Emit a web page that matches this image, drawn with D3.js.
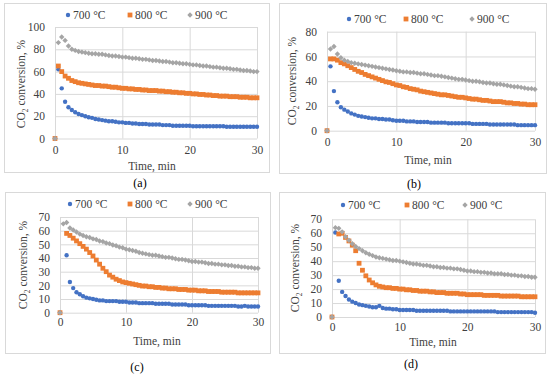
<!DOCTYPE html>
<html><head><meta charset="utf-8">
<script src="https://cdn.jsdelivr.net/npm/d3@7/dist/d3.min.js"></script>
<style>body{margin:0;background:#fff}svg{display:block}
svg text{font-family:"Liberation Serif","DejaVu Serif","Times New Roman",serif !important;}</style>
</head><body>
<svg id="c" width="550" height="374"></svg>
<script>
const time = [0,0.5,1,1.5,2,2.5,3,3.5,4,4.5,5,5.5,6,6.5,7,7.5,8,8.5,9,9.5,10,10.5,11,11.5,12,12.5,13,13.5,14,14.5,15,15.5,16,16.5,17,17.5,18,18.5,19,19.5,20,20.5,21,21.5,22,22.5,23,23.5,24,24.5,25,25.5,26,26.5,27,27.5,28,28.5,29,29.5,30];
const seriesNames = ["700 °C","800 °C","900 °C"];
const panelLabels = ["(a)","(b)","(c)","(d)"];
const xTicks = [0,10,20,30];
const yTicksA = [0,20,40,60,80,100];
const yTicksB = [0,20,40,60,80];
const yTicksC = [0,10,20,30,40,50,60,70];
const yTicksD = [0,10,20,30,40,50,60,70];

const a700 = [0,62,45,33,28,25.5,23.5,22,21,20,
 19,18.5,17.5,17,16.5,16,15.5,15.5,15,14.5,
 14.5,14,14,13.5,13.5,13,13,13,12.5,12.5,
 12.5,12.5,12,12,12,11.5,11.5,11.5,11.5,11.5,
 11.5,11,11,11,11,11,11,11,11,11,
 11,10.5,10.5,10.5,10.5,10.5,10.5,10.5,10.5,10.5,
 10.5];
const a800 = [0,65,60,56,54,52,51,50,49.5,49,
 48.5,48,47.5,47.5,47,47,46.5,46,46,45.5,
 45,45,44.5,44.5,44,44,43.5,43.5,43,43,
 43,42.5,42.5,42,42,41.5,41.5,41,41,40.5,
 40.5,40,40,39.5,39.5,39,39,38.5,38.5,38,
 38,38,37.5,37.5,37.5,37,37,37,36.5,36.5,
 36.5];
const a900 = [0,86,91,88,83,80,79,78,77.5,77,
 76.5,76,76,75.5,75.5,75,74.5,74,74,73.5,
 73,73,72.5,72,72,71.5,71,71,70.5,70,
 70,69.5,69,69,68.5,68,68,67.5,67,67,
 66.5,66,66,65.5,65,65,64.5,64,64,63.5,
 63,63,62.5,62,62,61.5,61,61,60.5,60,
 60];

const b700 = [0,52,32,23,19,17,15.5,14,13,12,
 11.5,11,10.5,10,10,9.5,9.5,9,9,8.5,
 8,8,8,7.5,7.5,7.5,7,7,7,7,
 6.5,6.5,6.5,6.5,6.5,6,6,6,6,6,
 6,6,5.5,5.5,5.5,5.5,5.5,5,5,5,
 5,5,5,5,5,4.5,4.5,4.5,4.5,4.5,
 4.5];
const b800 = [0,58,58,57,55,54,52.5,51,49.5,48,
 47,45.5,44.5,43.5,42.5,41.5,40.5,39.5,39,38,
 37,36.5,35.5,35,34,33.5,33,32,31.5,31,
 30.5,30,29.5,29,29,28.5,28,27.5,27,27,
 26.5,26,25.5,25.5,25,24.5,24.5,24,23.5,23.5,
 23.5,23,22.5,22.5,22,22,21.5,21.5,21,21,
 21];
const b900 = [0,66,68,62,59,57,56,55,54.5,54,
 53.5,53,52.5,52,51.5,51,50.5,50,49.5,49,
 48.5,48,47.5,47.5,47,47,46.5,46,46,45.5,
 45,44.5,44.5,44,43.5,43,42.5,42,41.5,41.5,
 41,40.5,40,40,39.5,39,38.5,38.5,38,37.5,
 37.5,37,36.5,36,35.5,35.5,35,34.5,34,34,
 33.5];

const c700 = [0,null,42,22.5,18,15,13.5,12,11,10.5,
 10,9.5,9,9,8.5,8.5,8.5,8.5,8,8,
 8,7.5,7.5,7.5,7,7,7,7,7,6.5,
 6.5,6.5,6.5,6.5,6,6,6,6,6,5.5,
 5.5,5.5,5.5,5.5,5.5,5,5,5,5,5,
 5,5,5,5,4.5,4.5,5,4.5,4.5,4.5,
 4.5];
const c800 = [0,null,58,56.5,54.5,52.5,50.5,48.5,46.5,44,
 41.5,38.5,35.5,32.5,30,27.5,26,24.5,23.5,22.5,
 22,21.5,21,20.5,20,19.5,19.5,19,19,18.5,
 18.5,18,18,17.5,17.5,17.5,17,17,17,16.5,
 16.5,16.5,16,16,16,15.5,15.5,15.5,15.5,15,
 15,15,15,15,14.5,14.5,14.5,14.5,14.5,14.5,
 14.5];
const c900 = [0,65,66,62,60.5,59,57.5,56.5,55.5,55,
 54,53.5,52.5,52,51,50.5,49.5,49,48,47.5,
 46.5,46,45.5,45,44,43.5,43,42.5,42,42,
 41.5,41,40.5,40.5,40,39.5,39,39,38.5,38,
 37.5,37.5,37,37,36.5,36,36,35.5,35.5,35,
 35,34.5,34.5,34,34,33.5,33.5,33,33,32.5,
 32.5];

const d700 = [0,60.5,26,18,15,12.5,11,10,9,8.5,
 8,7.5,7,7,8,6.5,6,6,5.5,5.5,
 5,5,5,5,5,4.5,4.5,4.5,4.5,4.5,
 4.5,4.5,4.5,4.5,4.5,4,4,4,4,4,
 4,4,4,4,4,4,4,4,4,3.5,
 3.5,3.5,3.5,3.5,3.5,3.5,3.5,3.5,3.5,3.5,
 3];
const d800 = [0,null,59.5,60,57,54.5,51.5,47.5,38.5,33.5,
 29.5,26.5,24.5,23,22,21.5,21,21,20.5,20.5,
 20,20,19.5,19.5,19,19,18.5,18.5,18.5,18,
 18,17.5,17.5,17.5,17,17,17,17,16.5,16.5,
 16,16,16,16,16,15.5,15.5,15.5,15.5,15.5,
 15,15,15,15,15,15,14.5,14.5,14.5,14.5,
 14.5];
const d900 = [0,64,63.5,61,57.5,55,52.5,50.5,49,47.5,
 46,45,44,43,42.5,42,41.5,41,40.5,40.5,
 40,39.5,39,38.5,38,38,37.5,37,37,36.5,
 36,36,35.5,35.5,35,35,34.5,34.5,34,33.5,
 33,33,32.5,32.5,32,32,31.5,31.5,31,31,
 31,30.5,30.5,30,30,29.5,29.5,29,29,28.5,
 28.5];

const colors = ["#4472C4","#ED7D31","#A5A5A5"];
const FONT = "Liberation Serif, DejaVu Serif, serif";
const FS = 11.5;
const TXT = "#404040";

const panels = [
  {label:panelLabels[0], series:[a700,a800,a900], yTicks:yTicksA, yMax:100,
   frame:[4,3,269,172], px:[55,257], py:[138.5,27], legY:15, legX:[68,130,190],
   titleX:21, titleY:84, xlabY:166, xlabX:152, tickY:153, labY:183, labX:140},
  {label:panelLabels[1], series:[b700,b800,b900], yTicks:yTicksB, yMax:80,
   frame:[279,3,546,173], px:[327,535], py:[130.7,31.7], legY:19, legX:[349,406,472],
   titleX:292, titleY:81, xlabY:160, xlabX:428, tickY:145, labY:184, labX:414},
  {label:panelLabels[2], series:[c700,c800,c900], yTicks:yTicksC, yMax:70,
   frame:[5,192,270,353], px:[60,258], py:[312.7,217], legY:204, legX:[70,130,190],
   titleX:23, titleY:265, xlabY:341, xlabX:157, tickY:325, labY:367, labX:137},
  {label:panelLabels[3], series:[d700,d800,d900], yTicks:yTicksD, yMax:70,
   frame:[279,192,545,353], px:[332,535], py:[317,219.3], legY:205, legX:[343,407,465],
   titleX:295, titleY:268, xlabY:342, xlabX:433, tickY:330, labY:364, labX:411}
];

const svg = d3.select("#c");

function marker(g, k, x, y) {
  if (k === 0) {
    g.append("circle").attr("cx", x).attr("cy", y).attr("r", 2.2).attr("fill", colors[0]);
  } else if (k === 1) {
    g.append("rect").attr("x", x-2.4).attr("y", y-2.4).attr("width", 4.8).attr("height", 4.8).attr("fill", colors[1]);
  } else {
    const s = 2.7;
    g.append("path").attr("d", `M${x},${y-s}L${x+s},${y}L${x},${y+s}L${x-s},${y}Z`).attr("fill", colors[2]);
  }
}
function styleText(sel, fs) {
  sel.style("font-family", FONT).style("font-size", fs + "px").attr("fill", TXT);
}

panels.forEach(p => {
  const g = svg.append("g");
  const [fx0, fy0, fx1, fy1] = p.frame;
  g.append("rect").attr("x", fx0+0.5).attr("y", fy0+0.5).attr("width", fx1-fx0).attr("height", fy1-fy0)
    .attr("fill", "#fff").attr("stroke", "#d9d9d9").attr("stroke-width", 1);

  const x = d3.scaleLinear().domain([0, 30]).range(p.px);
  const y = d3.scaleLinear().domain([0, p.yMax]).range(p.py);

  const gy = g.append("g").attr("transform", `translate(${p.px[0]},0)`)
    .call(d3.axisLeft(y).tickValues(p.yTicks).tickSize(-(p.px[1]-p.px[0])).tickFormat(""));
  gy.select(".domain").remove();
  gy.selectAll("line").attr("stroke", "#d9d9d9");
  const gx = g.append("g").attr("transform", `translate(0,${p.py[0]})`)
    .call(d3.axisBottom(x).tickValues(xTicks).tickSize(-(p.py[0]-p.py[1])).tickFormat(""));
  gx.select(".domain").remove();
  gx.selectAll("line").attr("stroke", "#d9d9d9");

  const yl = g.append("g").attr("transform", `translate(${p.px[0]-10},0)`)
    .call(d3.axisLeft(y).tickValues(p.yTicks).tickSize(0).tickPadding(0));
  yl.select(".domain").remove();
  styleText(yl.selectAll("text"), FS);
  const xl = g.append("g").attr("transform", `translate(0,${p.tickY-7})`)
    .call(d3.axisBottom(x).tickValues(xTicks).tickSize(0).tickPadding(0));
  xl.select(".domain").remove();
  styleText(xl.selectAll("text"), FS);

  styleText(g.append("text").attr("x", p.xlabX).attr("y", p.xlabY).attr("dy", "0.35em").attr("text-anchor", "middle")
    .text("Time, min"), FS);
  const yt = g.append("text").attr("transform", `translate(${p.titleX},${p.titleY}) rotate(-90)`)
    .attr("text-anchor", "middle").attr("dy", "0.35em");
  styleText(yt, FS);
  yt.append("tspan").text("CO");
  yt.append("tspan").style("font-size", "7.5px").attr("dy", 2.5).text("2");
  yt.append("tspan").attr("dy", -2.5).text(" conversion, %");

  p.series.forEach((vals, k) => {
    const sg = g.append("g");
    vals.forEach((v, i) => {
      if (v === null) return;
      marker(sg, k, x(time[i]), y(v));
    });
  });

  seriesNames.forEach((name, k) => {
    const lg = g.append("g");
    marker(lg, k, p.legX[k], p.legY);
    styleText(lg.append("text").attr("x", p.legX[k] + 5).attr("y", p.legY).attr("dy", "0.35em").text(name), FS);
  });

  const pl = svg.append("text").attr("x", p.labX).attr("y", p.labY).attr("dy", "0.35em").attr("text-anchor", "middle")
    .text(p.label);
  pl.style("font-family", FONT).style("font-size", "12px").attr("fill", "#000");
});
</script>
</body></html>
